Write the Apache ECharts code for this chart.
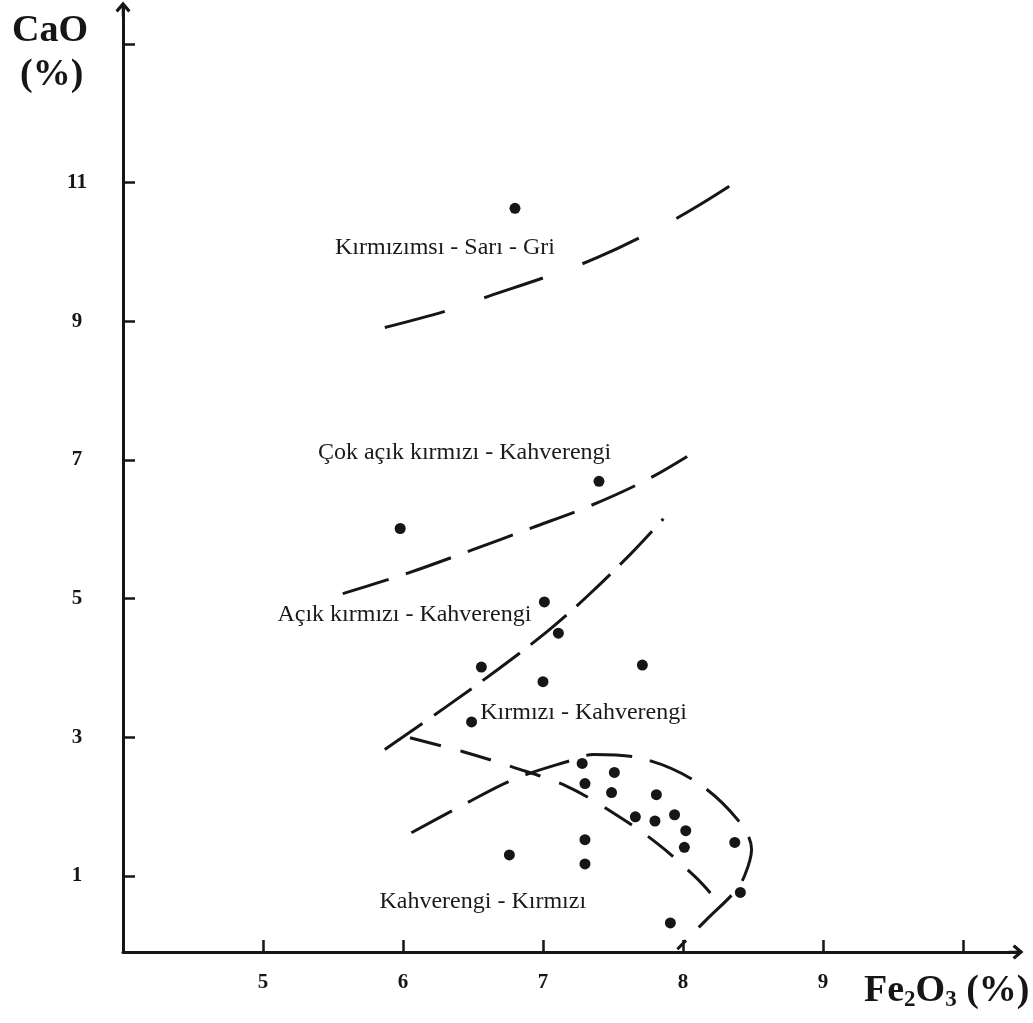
<!DOCTYPE html>
<html>
<head>
<meta charset="utf-8">
<script src="https://cdn.jsdelivr.net/npm/echarts@6/dist/echarts.min.js"></script>
<style>
html,body{margin:0;padding:0;background:#fff;}
#chart{width:1033px;height:1023px;}
</style>
</head>
<body>
<div id="chart"></div>
<script>
// ---- data ----
const fe2o3 = [6.80, 5.98, 7.40, 7.01, 7.11, 6.56, 7.71, 7.00, 6.49, 7.28, 7.51, 7.30, 7.49, 7.81, 7.94, 7.66, 7.80, 8.02, 8.01, 8.37, 6.76, 7.30, 7.30, 8.41, 7.91];
const cao   = [10.63, 6.01, 6.69, 4.95, 4.50, 4.01, 4.04, 3.80, 3.22, 2.62, 2.49, 2.33, 2.20, 2.17, 1.88, 1.85, 1.79, 1.65, 1.41, 1.48, 1.30, 1.52, 1.17, 0.76, 0.32];

const xTickLabels = [5, 6, 7, 8, 9];
const xTickMarks = [5, 6, 7, 8, 9, 10];
const yTickLabels = [1, 3, 5, 7, 9, 11];
const yTickMarks = [1, 3, 5, 7, 9, 11, 13];

// boundary curves (Fe2O3, CaO)
const curveGri = [[5.87, 8.91], [6.31, 9.15], [6.61, 9.36], [7.05, 9.66], [7.39, 9.92], [7.84, 10.36], [8.12, 10.68], [8.44, 11.09]];
const curveCokAcik = [[5.57, 5.07], [6.04, 5.37], [6.48, 5.69], [6.92, 6.02], [7.34, 6.34], [7.73, 6.70], [8.03, 7.05]];
const curveAcik = [[5.87, 2.82], [6.31, 3.44], [6.68, 3.98], [7.04, 4.54], [7.32, 5.04], [7.62, 5.63], [7.86, 6.15]];
const curveKirmizi = [[6.05, 2.99], [6.43, 2.79], [6.78, 2.57], [7.16, 2.30], [7.50, 1.91], [7.82, 1.46], [8.09, 0.98], [8.21, 0.72]];
const curveKahve = [[6.06, 1.62], [6.41, 2.00], [6.79, 2.39], [7.21, 2.67], [7.36, 2.75], [7.71, 2.69], [8.09, 2.36], [8.39, 1.81], [8.49, 1.38], [8.44, 1.00], [8.37, 0.77], [8.17, 0.37], [7.96, -0.06]];

// region labels
const labelX = [6.30, 6.44, 6.01, 7.29, 6.57];
const labelY = [10.06, 7.10, 4.77, 3.35, 0.63];
const labelText = ['Kırmızımsı - Sarı - Gri', 'Çok açık kırmızı - Kahverengi', 'Açık kırmızı - Kahverengi', 'Kırmızı - Kahverengi', 'Kahverengi - Kırmızı'];

// ---- chart ----
const chart = echarts.init(document.getElementById('chart'), null, {renderer: 'canvas'});
const ink = '#161616';
const serif = '"Liberation Serif", "Times New Roman", serif';
const arrowPath = 'path://M6,0 L12,7 L10.2,8.8 L6,4 L1.8,8.8 L0,7 Z M5,1.5 L7,1.5 L7,12 L5,12 Z';

function curveSeries(data, dash) {
  return {
    type: 'line', data: data, smooth: 0.35, showSymbol: false, symbol: 'none',
    lineStyle: {color: ink, width: 3, type: dash, cap: 'butt'},
    silent: true, z: 3
  };
}

const option = {
  animation: false,
  backgroundColor: '#fff',
  grid: {left: 123, right: 17, top: 9, bottom: 71},
  xAxis: {
    type: 'value', min: 4, max: 10.379, interval: 1,
    splitLine: {show: false},
    axisLine: {show: true, onZero: false, lineStyle: {color: ink, width: 3}, symbol: ['none', arrowPath], symbolSize: [20, 15]},
    axisTick: {show: true, inside: true, length: 12, lineStyle: {color: ink, width: 2.5}, customValues: xTickMarks},
    axisLabel: {customValues: xTickLabels, margin: 20, color: ink, fontFamily: serif, fontWeight: 'bold', fontSize: 21}
  },
  yAxis: {
    type: 'value', min: -0.1, max: 13.505,
    splitLine: {show: false},
    axisLine: {show: true, onZero: false, lineStyle: {color: ink, width: 3}, symbol: ['none', arrowPath], symbolSize: [20, 15]},
    axisTick: {show: true, inside: true, length: 12, lineStyle: {color: ink, width: 2.5}, customValues: yTickMarks},
    axisLabel: {customValues: yTickLabels, margin: 46, align: 'center', padding: [0, 0, 14, 0], color: ink, fontFamily: serif, fontWeight: 'bold', fontSize: 21}
  },
  graphic: [
    {type: 'text', left: 12, top: 12, style: {text: 'CaO', font: 'bold 38px ' + serif, fill: ink}},
    {type: 'text', left: 20, top: 56, style: {text: '(%)', font: 'bold 38px ' + serif, fill: ink}},
    {type: 'text', left: 864, top: 972, style: {
      text: '{a|Fe}{s|2}{a|O}{s|3}{a| (%)}',
      rich: {
        a: {fontFamily: serif, fontWeight: 'bold', fontSize: 38, fill: ink, color: ink, lineHeight: 40, verticalAlign: 'top'},
        s: {fontFamily: serif, fontWeight: 'bold', fontSize: 23, fill: ink, color: ink, lineHeight: 23, verticalAlign: 'bottom'}
      }
    }}
  ],
  series: [
    curveSeries(curveGri, [62, 42]),
    curveSeries(curveCokAcik, [48, 18]),
    curveSeries(curveAcik, [46, 14]),
    curveSeries(curveKirmizi, [32, 20]),
    curveSeries(curveKahve, [46, 18]),
    {
      type: 'scatter', symbol: 'circle', symbolSize: 11,
      itemStyle: {color: ink, opacity: 1},
      data: fe2o3.map((x, i) => [x, cao[i]]), z: 5, silent: true
    },
    {
      type: 'scatter', symbolSize: 1, itemStyle: {color: '#fff', opacity: 0},
      data: labelX.map((x, i) => [x, labelY[i], labelText[i]]),
      label: {show: true, position: 'inside', formatter: p => p.data[2], fontFamily: serif, fontSize: 24, color: '#1a1a1a', opacity: 1, textBorderWidth: 0},
      silent: true, z: 4
    }
  ]
};
chart.setOption(option);
</script>
</body>
</html>
